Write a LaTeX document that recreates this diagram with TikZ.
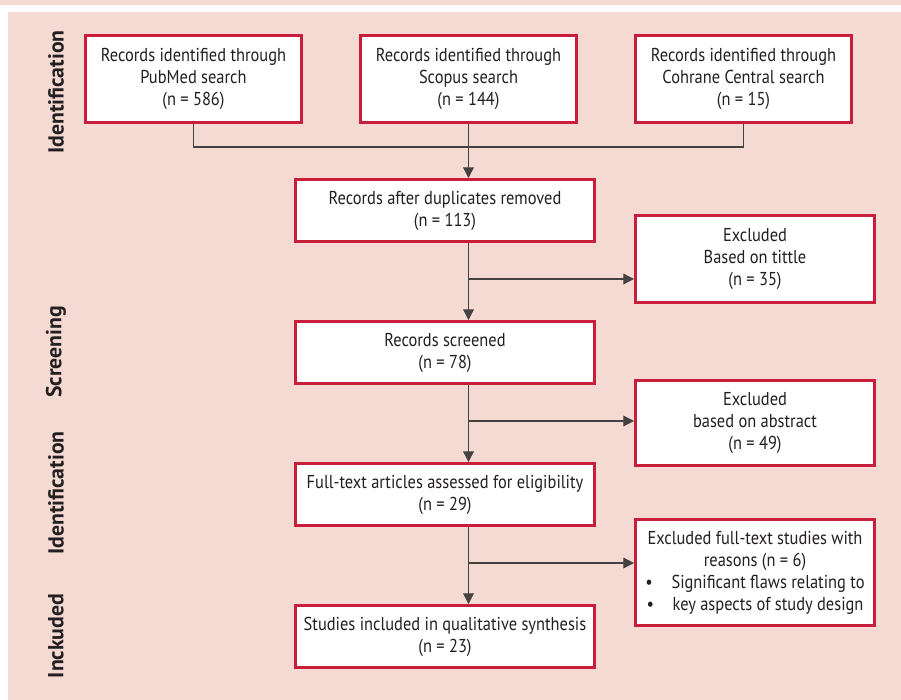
\documentclass[tikz,border=0pt]{standalone}
\usepackage{fontspec}
\setmainfont{PT Sans}[FakeStretch=0.88]
\newfontfamily\labelfont{PT Sans}
\usetikzlibrary{arrows.meta}
\definecolor{bgpink}{HTML}{F5D9D3}
\definecolor{boxred}{HTML}{C81E3C}
\definecolor{ink}{HTML}{231F20}
\begin{document}
\begin{tikzpicture}[x=0.75pt,y=-0.75pt,
  bx/.style 2 args={draw=boxred, line width=2.6pt, fill=white, inner sep=0pt,
     minimum width=#1*0.75pt, minimum height=#2*0.75pt, align=center,
     font=\fontsize{14pt}{16.5pt}\selectfont, text=ink},
  side/.style={rotate=90, font=\labelfont\bfseries\fontsize{16.3pt}{19pt}\selectfont, text=ink},
  conn/.style={draw=ink!85, line width=0.95pt},
  arr/.style={conn, -{Triangle[length=8pt,width=8pt]}}]
\useasboundingbox (0,0) rectangle (901,700);
\fill[white] (0,0) rectangle (901,700);
\fill[bgpink] (0,0) rectangle (901,4.5);
\fill[bgpink] (8,11.5) rectangle (901,700);
% side labels
\node[side] (l1) at (56,92) {Identification};
\node[side] (l2) at (56,352) {Screening};
\node[side] (l3) at (56,493) {Identification};
\node[side] (l4) at (56,636) {Inckuded};
% boxes
\node[bx={215.5}{86.5}] (b1) at (193.5,79) {Records identified through\\PubMed search\\(n = 586)};
\node[bx={215.5}{86.5}] (b2) at (468.5,79) {Records identified through\\Scopus search\\(n = 144)};
\node[bx={215.5}{86.5}] (b3) at (743.5,79) {Records identified through\\Cohrane Central search\\(n = 15)};
\node[bx={298.5}{61.5}] (b4) at (445,210.5) {Records after duplicates removed\\(n = 113)};
\node[bx={238.5}{86.5}] (e1) at (755,259) {Excluded\\Based on tittle\\(n = 35)};
\node[bx={298.5}{61.5}] (b5) at (445,352.5) {Records screened\\(n = 78)};
\node[bx={238.5}{84.5}] (e2) at (755,423) {Excluded\\based on abstract\\(n = 49)};
\node[bx={298.5}{61.5}] (b6) at (445,494.5) {Full-text articles assessed for eligibility\\(n = 29)};
\node[bx={238.5}{105.5}] (e3) at (755,572.5) {Excluded full-text studies with\\reasons (n = 6)\\\textbullet\hspace{1.0em}Significant flaws relating to\\\textbullet\hspace{1.0em}key aspects of study design};
\node[bx={298.5}{61.5}] (b7) at (445,636.5) {Studies included in qualitative synthesis\\(n = 23)};
% connectors
\coordinate (j) at (468.5,147);
\coordinate (s1) at (468.5,279);
\coordinate (s2) at (468.5,421);
\coordinate (s3) at (468.5,563);
\draw[conn] (b1.south) |- (j) -| (b3.south);
\draw[arr] (b2.south) -- (b2.south |- b4.north);
\draw[arr] (b2.south |- b4.south) -- (b2.south |- b5.north);
\draw[arr] (b2.south |- b5.south) -- (b2.south |- b6.north);
\draw[arr] (b2.south |- b6.south) -- (b2.south |- b7.north);
\draw[arr] (s1) -- (s1 -| e1.west);
\draw[arr] (s2) -- (s2 -| e2.west);
\draw[arr] (s3) -- (s3 -| e3.west);
\end{tikzpicture}
\end{document}
